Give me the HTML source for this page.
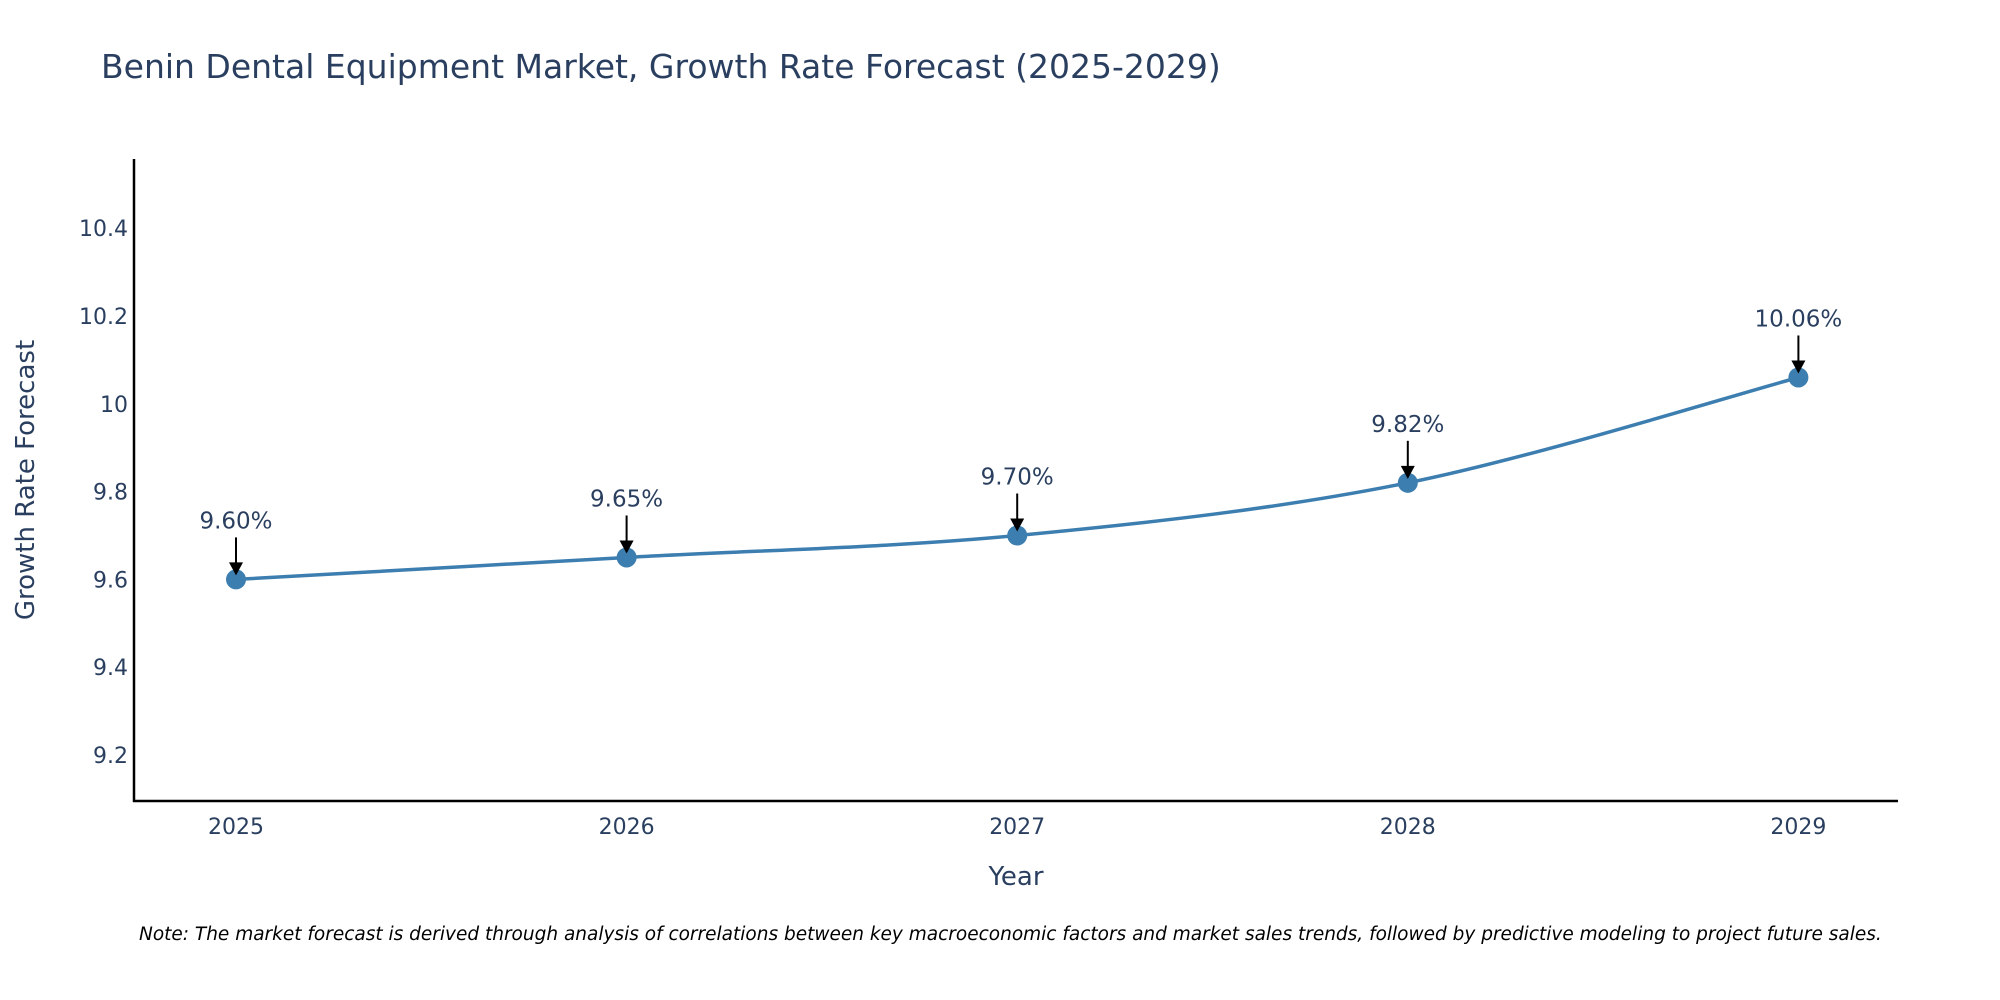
<!DOCTYPE html>
<html><head><meta charset="utf-8"><style>
html,body{margin:0;padding:0;background:#fff;}
svg{display:block;font-family:"DejaVu Sans","Liberation Sans",sans-serif;}
</style></head><body>
<svg id="chart" width="2000" height="1000" viewBox="0 0 2000 1000">
<text x="101" y="78" font-size="33" fill="#2a3f5f">Benin Dental Equipment Market, Growth Rate Forecast (2025-2029)</text>
<g id="yticks"></g>
<g id="xticks"></g>
<line x1="134" y1="159" x2="134" y2="802" stroke="#000" stroke-width="2.5"/>
<line x1="133" y1="801" x2="1898" y2="801" stroke="#000" stroke-width="2.5"/>
<text transform="translate(34,480) rotate(-90)" text-anchor="middle" font-size="26" fill="#2a3f5f">Growth Rate Forecast</text>
<text x="1016" y="885" text-anchor="middle" font-size="26" fill="#2a3f5f">Year</text>
<path id="line" fill="none" stroke="#3d7eb0" stroke-width="3.5"/>
<g id="marks"></g>
<text x="139" y="940" font-size="18.5" font-style="italic" fill="#000">Note: The market forecast is derived through analysis of correlations between key macroeconomic factors and market sales trends, followed by predictive modeling to project future sales.</text>
</svg>
<script>
const years = [2025, 2026, 2027, 2028, 2029];
const growth = [9.60, 9.65, 9.70, 9.82, 10.06];
const labels = ["9.60%", "9.65%", "9.70%", "9.82%", "10.06%"];
const yTicks = [9.2, 9.4, 9.6, 9.8, 10, 10.2, 10.4];
const yTickLabels = ["9.2", "9.4", "9.6", "9.8", "10", "10.2", "10.4"];

const NS = "http://www.w3.org/2000/svg";
const X = v => 236 + (v - 2025) * 390.6;
const Y = v => 755 - (v - 9.2) / 0.2 * 87.8;
function mk(tag, attrs, parent, text){const e=document.createElementNS(NS,tag);for(const k in attrs)e.setAttribute(k,attrs[k]);if(text!==undefined)e.textContent=text;parent.appendChild(e);return e;}

const yg = document.getElementById('yticks');
yTicks.forEach((t,i)=>{
  const e = mk('text',{x:128,y:Y(t)+8,'text-anchor':'end','font-size':22,fill:'#2a3f5f'},yg,yTickLabels[i]);
  
  
});
const xg = document.getElementById('xticks');
years.forEach(y=>{
  const e = mk('text',{x:X(y),y:834,'text-anchor':'middle','font-size':22,fill:'#2a3f5f'},xg,String(y));
  
  
});

const pts = years.map((y,i)=>[X(y),Y(growth[i])]);
let d = `M${pts[0][0]},${pts[0][1]}`;
const s = 0.33;
for(let i=0;i<pts.length-1;i++){
  const p0=pts[i-1]||pts[i], p1=pts[i], p2=pts[i+1], p3=pts[i+2]||pts[i+1];
  const c1=[p1[0]+(p2[0]-p0[0])*s/2, p1[1]+(p2[1]-p0[1])*s/2];
  const c2=[p2[0]-(p3[0]-p1[0])*s/2, p2[1]-(p3[1]-p1[1])*s/2];
  d+=` C${c1[0]},${c1[1]} ${c2[0]},${c2[1]} ${p2[0]},${p2[1]}`;
}
document.getElementById('line').setAttribute('d',d);

const mg = document.getElementById('marks');
pts.forEach((p,i)=>{
  const c = mk('circle',{cx:p[0],cy:p[1],r:10,fill:'#3d7eb0'},mg);
  
  
  const l = mk('line',{x1:p[0],y1:p[1]-42,x2:p[0],y2:p[1]-14,stroke:'#000','stroke-width':2},mg);
  
  
  const a = mk('polygon',{points:`${p[0]-7},${p[1]-17} ${p[0]+7},${p[1]-17} ${p[0]},${p[1]-4}`,fill:'#000'},mg);
  
  
  const t = mk('text',{x:p[0],y:p[1]-51,'text-anchor':'middle','font-size':23,fill:'#2a3f5f'},mg,labels[i]);
  
  
});
</script>
</body></html>
